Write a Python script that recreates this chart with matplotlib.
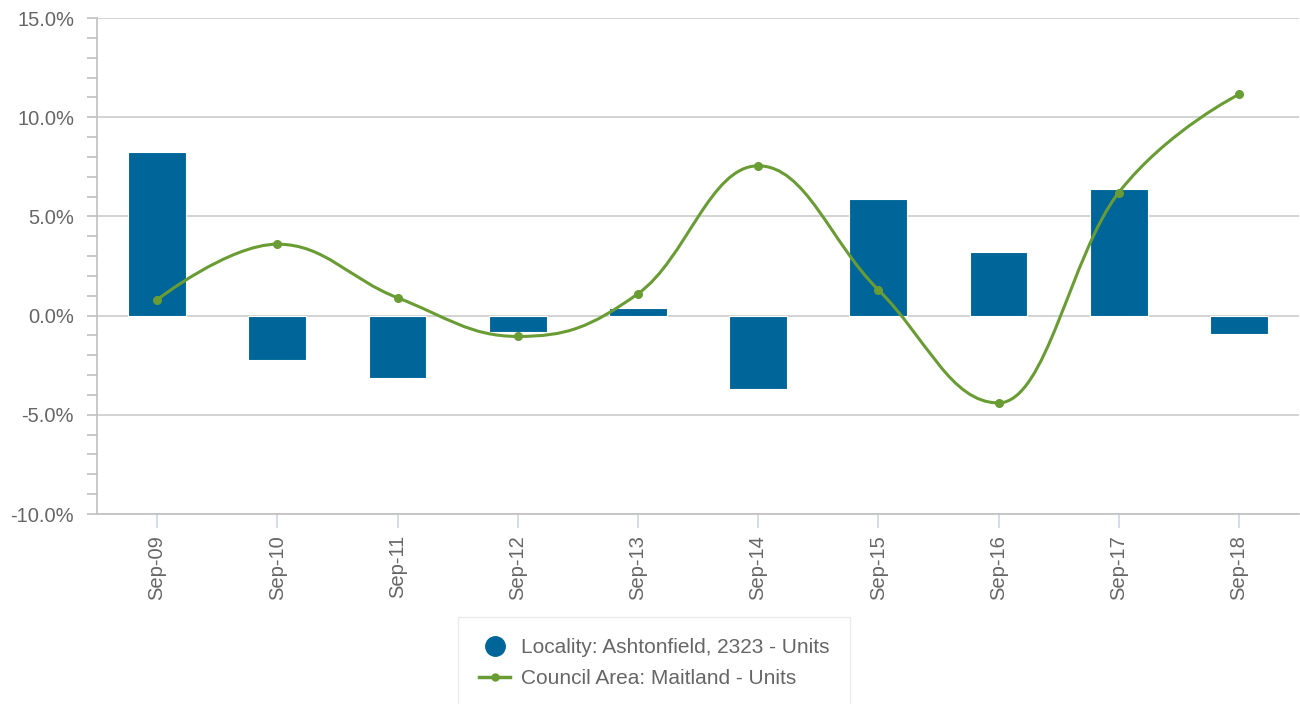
import numpy as np
import matplotlib.pyplot as plt
from matplotlib.path import Path
from matplotlib.patches import PathPatch
from matplotlib.lines import Line2D
from matplotlib.ticker import MultipleLocator, FuncFormatter

plt.rcParams['font.family'] = ['Liberation Sans', 'DejaVu Sans']

categories = ['Sep-09', 'Sep-10', 'Sep-11', 'Sep-12', 'Sep-13',
              'Sep-14', 'Sep-15', 'Sep-16', 'Sep-17', 'Sep-18']
locality = [8.25, -2.25, -3.15, -0.85, 0.4, -3.7, 5.9, 3.2, 6.4, -0.95]
council = [0.8, 3.6, 0.9, -1.05, 1.1, 7.55, 1.3, -4.4, 6.2, 11.15]

bar_color = '#006699'
line_color = '#6a9c34'
text_color = '#666666'
grid_color = '#cccccc'


def spline_path(xs, ys, smoothing=1.5):
    # highcharts-style spline: cubic bezier with clamped control points
    n = len(xs)
    left = [None] * n
    right = [None] * n
    denom = smoothing + 1
    for i in range(1, n - 1):
        px, py = xs[i], ys[i]
        lx, ly = xs[i - 1], ys[i - 1]
        nx, ny = xs[i + 1], ys[i + 1]
        lcx = (smoothing * px + lx) / denom
        lcy = (smoothing * py + ly) / denom
        rcx = (smoothing * px + nx) / denom
        rcy = (smoothing * py + ny) / denom
        corr = (rcy - lcy) * (rcx - px) / (rcx - lcx) + py - rcy
        lcy += corr
        rcy += corr
        if lcy > ly and lcy > py:
            lcy = max(ly, py); rcy = 2 * py - lcy
        elif lcy < ly and lcy < py:
            lcy = min(ly, py); rcy = 2 * py - lcy
        if rcy > ny and rcy > py:
            rcy = max(ny, py); lcy = 2 * py - rcy
        elif rcy < ny and rcy < py:
            rcy = min(ny, py); lcy = 2 * py - rcy
        left[i] = (lcx, lcy)
        right[i] = (rcx, rcy)
    verts = [(xs[0], ys[0])]
    codes = [Path.MOVETO]
    for i in range(1, n):
        c1 = right[i - 1] or (xs[i - 1], ys[i - 1])
        c2 = left[i] or (xs[i], ys[i])
        verts += [c1, c2, (xs[i], ys[i])]
        codes += [Path.CURVE4] * 3
    return Path(verts, codes)


fig = plt.figure(figsize=(13, 7.04), dpi=100)
ax = fig.add_axes([97 / 1300, 1 - 514 / 704, 1202 / 1300, 496 / 704])

x = np.arange(len(categories))
ax.bar(x, locality, width=0.48, color=bar_color, edgecolor='white',
       linewidth=0.8, zorder=2)

path = spline_path(list(x.astype(float)), council)
ax.add_patch(PathPatch(path, facecolor='none', edgecolor=line_color,
                       linewidth=2.2, zorder=3, capstyle='round'))
ax.plot(x, council, 'o', color=line_color, markersize=5.5, zorder=4)

ax.set_xlim(-0.5, len(categories) - 0.5)
ax.set_ylim(-10, 15)
ax.yaxis.set_major_locator(MultipleLocator(5))
ax.yaxis.set_minor_locator(MultipleLocator(1))
ax.yaxis.set_major_formatter(FuncFormatter(lambda v, p: f'{v:.1f}%'))
ax.grid(axis='y', which='major', color=grid_color, linewidth=1.2, zorder=0)
ax.set_axisbelow(True)

ax.set_xticks(x)
ax.set_xticklabels(categories, rotation=90)

for s in ['top', 'right']:
    ax.spines[s].set_visible(False)
ax.spines['left'].set_color('#c0c0c0')
ax.spines['bottom'].set_color('#c0c0c0')
ax.spines['left'].set_linewidth(1.2)
ax.spines['bottom'].set_linewidth(1.2)

ax.tick_params(axis='y', which='major', length=7, color='#c0c0c0',
               labelsize=14.5, labelcolor=text_color, pad=9.5, width=1.2)
ax.tick_params(axis='y', which='minor', length=7, color='#c0c0c0', width=1.2)
ax.tick_params(axis='x', length=10, color='#ccd6eb', labelsize=14.5,
               labelcolor=text_color, pad=5, width=1.2)

handles = [
    Line2D([], [], marker='o', linestyle='none', color=bar_color,
           markersize=14),
    Line2D([], [], marker='o', color=line_color, linewidth=2.5,
           markersize=5),
]
labels = ['Locality: Ashtonfield, 2323 - Units',
          'Council Area: Maitland - Units']
leg = fig.legend(handles, labels, loc='upper center',
                 bbox_to_anchor=(654 / 1300, 1 - 617 / 704),
                 frameon=True, fancybox=False, fontsize=15,
                 handlelength=1.5, handletextpad=0.5, labelspacing=0.6,
                 borderpad=1.0, borderaxespad=0, labelcolor=text_color)
leg.get_frame().set_edgecolor('#e6e6e6')
leg.get_frame().set_linewidth(1.0)

fig.savefig('out.png', dpi=100)
